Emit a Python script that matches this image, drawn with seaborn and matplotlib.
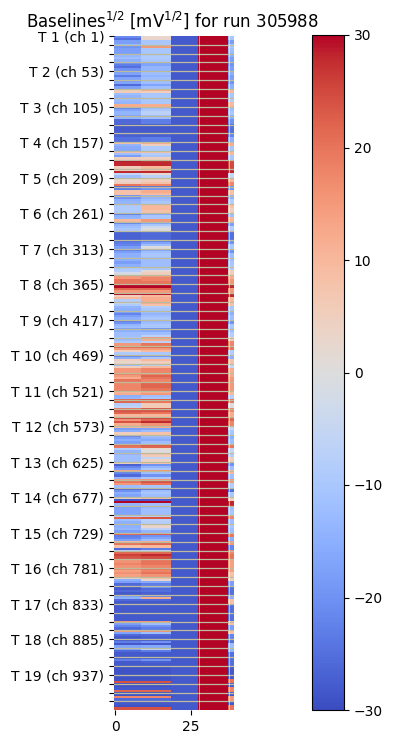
import numpy as np
import pandas as pd
import matplotlib
matplotlib.use("Agg")
import matplotlib.pyplot as plt
import seaborn as sns

RUN = 305988
CHANNELS_PER_BLOCK = 13
BLOCKS_PER_TRIGGER = 4
SUBBAND_ROWS = [3, 3, 3, 4]
COLUMN_WIDTHS = [9, 10, 9, 10, 2]
BLUE_LEVEL = -28
RED_LEVEL = 30
TICK_STEP_X = 25
COLOR_MIN, COLOR_MAX = -30, 30

# four sub-bands per 13-channel block, first readout region
left_bands = [
    -21, -25, -18, -18,   -13, -20, -18, -18,   -18, -14, -12, -15,  -20, -23, -25, -20,
    -18, -17, -23, -17,   -18, -17, -26, -18,   5, 6, -12, -14,      -12, -13, -14, 12,
    -22, -17, -14, -14,   -17, -14, -26, -26,   -28, -28, -28, -28,  -27, -27, -25, -25,
    8, -14, -16, -16,     8, -12, -18, 5,       30, 28, 28, 5,       5, 28, -5, -12,
    3, 3, 5, 20,          -26, -23, 8, 8,
    -20, -20, -15, -14,   -9, -9, -9, -9,       -23, -15, -14, 10,   -22, -14, -12, -10,
    -27, -27, -27, -27,   -26, -23, -22, -18,   -23, -18, -15, -15,  -14, -15, -18, -15,
    -15, -9, -8, -2,      15, 15, 20, 20,       30, 30, 22, 15,      30, 5, 10, -8,
    -5, -9, -14, -15,     -18, -22, -18, -15,   -23, -20, -14, -12,  -18, -15, -12, -12,
    -9, -12, -9, 15,      22, 15, 5, -9,        -22, -15, 5, 3,
    -12, 5, 15, 15,       18, 15, 12, 20,       18, 18, 18, 18,      10, 12, -15, -14,
    22, 22, -8, -6,       20, 24, 22, 10,       26, 16, 24, 12,      10, -18, -15, 5,
    -22, -18, -15, -18,   22, 20, -8, -14,      -14, -12, -12, -12,  4, -27, -22, -18,
    14, -22, -26, -14,    14, 20, 15, -12,      -26, -20, -15, -17,  5, -28, 30, -14,
    -18, -17, -17, -17,   -8, 22, -12, -15,     -15, -15, -14, -18,
    22, -23, -22, -17,    10, 20, 8, -26,       -8, 22, 26, 24,      16, 16, 18, 16,
    18, 14, 16, 14,       4, -15, -18, -26,     -28, -28, -26, -28,  -18, -15, -26, -28,
    -28, -28, -28, -28,   -28, -28, -28, -28,   16, -18, -22, -26,   15, -17, -26, -28,
    -28, -23, -28, -17,   -17, -26, -28, -28,   -28, -23, -28, -28,  -29, -29, -29, -29,
    -29, -29, -29, 24,    -29, -29, -28, 22,    -29, -29, 18, -26,   -29, -28, -29, 24,
]

# four sub-bands per 13-channel block, second readout region
right_bands = [
    3, 3, -10, -10,       -10, 15, -10, -10,    -10, -9, -9, -10,    -17, -17, -14, -14,
    -12, -12, -14, -12,   -12, -12, -17, -12,   12, 5, -10, -10,     -10, -10, -10, 12,
    -12, -10, -7, -7,     -12, -12, -23, -23,   -28, -28, -28, -28,  -27, -27, -23, -23,
    12, 5, -9, -9,        8, -8, -10, 5,        28, 28, 28, 10,      10, 28, 2, -7,
    5, 5, 8, 18,          -25, -20, 12, 10,
    -14, -14, -12, -10,   10, 10, 10, 8,        -17, -10, -10, 15,   -17, -10, -4, 0,
    -26, -26, -26, -26,   -23, -17, -12, 0,     -17, -12, -10, -10,  -12, -12, -12, -12,
    -12, -10, 2, 5,       15, 18, 18, 20,       30, 30, 22, 15,      30, 10, 12, 12,
    12, 8, -8, -10,       -12, -14, -12, -10,   -14, -12, -10, -10,  -20, -16, -12, -7,
    15, 12, -7, 20,       22, 15, 10, -10,      -20, -10, 10, 5,
    -7, 10, 18, 18,       18, 22, 20, 18,       22, 22, 22, 20,      12, 15, -12, -10,
    24, 20, 6, 6,         24, 24, 20, 10,       26, 22, 28, 16,      12, -17, -12, 8,
    -12, -14, -16, -12,   24, 22, 2, 0,         8, 6, -6, 4,         8, -20, -14, -10,
    15, -12, -20, -10,    16, 24, 20, -10,      -25, -12, -10, -12,  10, -28, 30, -12,
    -14, -12, -12, -12,   -7, 24, -7, -8,       3, 3, -7, -14,
    24, -20, -17, -12,    12, 22, 10, -23,      -7, 22, 28, 25,      20, 20, 20, 18,
    20, 18, 20, 16,       8, 3, -16, -23,       -20, -26, -25, -27,  -22, 12, -26, -28,
    -28, -28, -28, -28,   -28, -28, -28, -28,   15, -12, -20, -23,   16, -12, -26, -27,
    -28, -20, -28, -16,   -6, -23, -28, -28,    -28, -20, -27, -28,  -29, -29, -29, -29,
    -29, -29, -29, 24,    -29, -29, -28, 22,    -29, -29, 18, -26,   -29, -28, -29, 24,
]

# two sub-bands per block, narrow last column
strip_bands = [
    -10, -18, -10, -12, -15, -18, -20, -18, -15, -18, -20, -15, 10, -10, -8, 10,
    -12, -10, -15, -20, -25, -25, -22, -15, 12, -10, 10, -10, 25, 25, 28, -5,
    10, 18, -20, 8,
    -15, -8, 8, 5, -12, 10, -18, -8, -25, -25, -20, -10, -20, -12, -12, -10,
    -8, 5, 12, 15, 28, 15, 28, 10, 8, -10, -15, -12, -20, -10, -12, -8,
    5, 18, 20, -8, -15, 8,
    -5, 12, 12, 15, 15, 15, 10, -8, 20, 0, 18, 12, 22, 18, -5, -10,
    -15, -12, 20, -5, -8, 5, -20, -12, 10, -12, 15, -8, -25, -10, 5, 28,
    -12, -10, 18, -12, -10, -12,
    20, -15, 15, -22, 18, 20, 14, 14, 14, 8, 5, -18, -25, -25, -15, 8,
    -25, -25, -25, -25, 8, -18, 8, -22, -25, -12, -14, -25, -25, -25, -28, -28,
    -28, 20, -28, 18, -28, 15, -28, 20,
]

n_blocks = len(left_bands) // 4
n_channels = n_blocks * CHANNELS_PER_BLOCK
left = np.repeat(left_bands, SUBBAND_ROWS * n_blocks)
right = np.repeat(right_bands, SUBBAND_ROWS * n_blocks)
strip = np.repeat(strip_bands, [6, 7] * n_blocks)
blue = np.full(n_channels, BLUE_LEVEL)
red = np.full(n_channels, RED_LEVEL)

groups = [left, right, blue, red, strip]
data = np.column_stack([np.tile(g[:, None], (1, w)) for g, w in zip(groups, COLUMN_WIDTHS)])
frame = pd.DataFrame(data)

W, H = 394, 744
fig = plt.figure(figsize=(W / 100, H / 100), dpi=100)
ax = fig.add_axes([114 / W, 1 - 710 / H, 120 / W, 674.5 / H])
cax = fig.add_axes([312 / W, 1 - 710 / H, 32 / W, 675 / H])

sns.heatmap(frame, ax=ax, cbar_ax=cax, cmap="coolwarm", vmin=COLOR_MIN, vmax=COLOR_MAX,
            xticklabels=False, yticklabels=False, rasterized=True)
cbar = ax.collections[0].colorbar
cbar.outline.set_visible(True)
cbar.outline.set_edgecolor("black")
cbar.outline.set_linewidth(0.8)
cax.tick_params(labelsize=10, length=3.5, width=0.8)
cax.set_yticks(np.arange(COLOR_MIN, COLOR_MAX + 1, 10))

ytick_pos = np.arange(0, n_channels, CHANNELS_PER_BLOCK)
major = CHANNELS_PER_BLOCK * BLOCKS_PER_TRIGGER
ylabels = [f"T {p // major + 1} (ch {p + 1})" if p % major == 0 else "" for p in ytick_pos]
ax.set_yticks(ytick_pos + 0.5)
ax.set_yticklabels(ylabels, rotation=0, fontsize=10)
xtick_vals = np.arange(0, data.shape[1], TICK_STEP_X)
ax.set_xticks(xtick_vals + 0.5)
ax.set_xticklabels(xtick_vals, rotation=0, fontsize=10)
ax.tick_params(length=3.5, width=0.8)

for p in ytick_pos[1:]:
    ax.axhline(p + 0.5, color="#bcbc9c", lw=0.9, zorder=3)
for edge in np.cumsum(COLUMN_WIDTHS)[2:4]:
    ax.axvline(edge + 0.3, color="white", lw=0.5, alpha=0.8, zorder=4)

ax.set_title(f"Baselines$^{{1/2}}$ [mV$^{{1/2}}$] for run {RUN}", fontsize=12, pad=6, x=0.49)
fig.savefig("out.png", dpi=100)
